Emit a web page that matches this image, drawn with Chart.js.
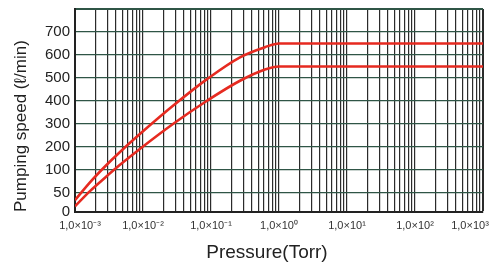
<!DOCTYPE html>
<html>
<head>
<meta charset="utf-8">
<script src="https://cdn.jsdelivr.net/npm/chart.js@4/dist/chart.umd.min.js"></script>
<style>
    html, body { margin: 0; background: #fff; }
</style>
</head>
<body>
<canvas id="pump" width="499" height="265"></canvas>
<script>
// values (pressure in Torr, speed in l/min)
const pressures  = [0.001, 0.00166, 0.00276, 0.00459, 0.01, 0.0276, 0.0873, 0.267, 0.622, 1.0, 10, 100, 1000];
const speedUpper = [31, 73, 115, 178, 268, 379, 495, 590, 634, 650, 650, 650, 650];
const speedLower = [15, 54, 83, 122, 202, 300, 401, 488, 537, 550, 550, 550, 550];
const speedTicks = [0, 50, 100, 200, 300, 400, 500, 600, 700, 800];
const decadeExps = [-3, -2, -1, 0, 1, 2, 3];

const supers = { "-": "\u207B", "0": "\u2070", "1": "\u00B9", "2": "\u00B2", "3": "\u00B3" };
function decadeLabel(exp) {
    return "1,0\u00D710" + String(exp).split("").map(c => supers[c]).join("");
}

// the printed speed axis is not linear below 100, so map values piecewise
const knotVal = [0, 50, 100, 800];
const knotPos = [0, 0.83, 1.83, 8.83];
function fwd(v) {
    for (let i = 1; i < knotVal.length; i++) {
        if (v <= knotVal[i] || i === knotVal.length - 1) {
            const t = (v - knotVal[i - 1]) / (knotVal[i] - knotVal[i - 1]);
            return knotPos[i - 1] + t * (knotPos[i] - knotPos[i - 1]);
        }
    }
}
function inv(u) {
    for (let i = 1; i < knotPos.length; i++) {
        if (u <= knotPos[i] || i === knotPos.length - 1) {
            const t = (u - knotPos[i - 1]) / (knotPos[i] - knotPos[i - 1]);
            return knotVal[i - 1] + t * (knotVal[i] - knotVal[i - 1]);
        }
    }
}

class SpeedScale extends Chart.LinearScale {
    getPixelForValue(value) {
        if (value === null || value === undefined) return NaN;
        const a = fwd(this.min), b = fwd(this.max);
        return this.getPixelForDecimal((fwd(value) - a) / (b - a));
    }
    getValueForPixel(pixel) {
        const a = fwd(this.min), b = fwd(this.max);
        return inv(a + this.getDecimalForPixel(pixel) * (b - a));
    }
}
SpeedScale.id = "speed";
SpeedScale.defaults = {};

// log axis whose end labels sit a little inside the frame, as printed
class PressureScale extends Chart.LogarithmicScale {
    _computeLabelItems(chartArea) {
        const items = super._computeLabelItems(chartArea);
        if (items.length) {
            items[0].options.translation[0] += 5;
            items[items.length - 1].options.translation[0] -= 13;
        }
        return items;
    }
    drawTitle() {
        // title is printed a bit left of the plot centre
        this.ctx.save();
        this.ctx.translate(-12, 0);
        super.drawTitle();
        this.ctx.restore();
    }
}
PressureScale.id = "pressure";
PressureScale.defaults = {};

Chart.register(SpeedScale, PressureScale);

function series(values) {
    return pressures.map((p, i) => ({ x: p, y: values[i] }));
}

const lineStyle = {
    borderColor: "#e62a20",
    borderWidth: 2.6,
    pointRadius: 0,
    fill: false,
    cubicInterpolationMode: "monotone"
};

const font = "Liberation Sans, Arial, sans-serif";

new Chart(document.getElementById("pump").getContext("2d"), {
    type: "line",
    data: {
        datasets: [
            Object.assign({ label: "upper", data: series(speedUpper) }, lineStyle),
            Object.assign({ label: "lower", data: series(speedLower) }, lineStyle)
        ]
    },
    options: {
        responsive: false,
        animation: false,
        events: [],
        layout: { padding: { left: 6, right: 16, top: 9, bottom: 0 } },
        plugins: {
            legend: { display: false },
            tooltip: { enabled: false }
        },
        scales: {
            x: {
                type: "pressure",
                min: 0.001,
                max: 1000,
                afterBuildTicks: (s) => {
                    const t = [];
                    decadeExps.slice(0, -1).forEach(e => {
                        for (let m = 1; m < 10; m++) t.push({ value: m * Math.pow(10, e), major: m === 1 });
                    });
                    t.push({ value: 1000, major: true });
                    s.ticks = t;
                },
                afterFit: (s) => {
                    s.paddingLeft = 0;
                    s.paddingRight = 0;
                    s.height = 53;
                },
                ticks: {
                    autoSkip: false,
                    maxRotation: 0,
                    padding: 7,
                    color: "#333",
                    font: { family: font, size: 11 },
                    callback: (v) => {
                        const e = Math.log10(v);
                        if (Math.abs(e - Math.round(e)) > 1e-6) return "";
                        return decadeLabel(Math.round(e));
                    }
                },
                grid: {
                    color: "#2b2b2b",
                    lineWidth: (c) => (c.tick && c.tick.value === 1000 ? 2 : 1.2),
                    drawTicks: false
                },
                border: { color: "#222", width: 2 },
                title: {
                    display: true,
                    text: "Pressure(Torr)",
                    color: "#222",
                    font: { family: font, size: 19 },
                    padding: { top: 4, bottom: 1 }
                }
            },
            y: {
                type: "speed",
                min: 0,
                max: 800,
                afterBuildTicks: (s) => {
                    s.ticks = speedTicks.map(v => ({ value: v }));
                },
                afterFit: (s) => {
                    s.width = 69;
                    s.paddingTop = 0;
                    s.paddingBottom = 0;
                },
                ticks: {
                    padding: 5,
                    color: "#222",
                    font: { family: font, size: 15 },
                    callback: (v) => (v === 800 ? "" : String(v))
                },
                grid: {
                    color: "#2f5546",
                    lineWidth: (c) => (c.tick && c.tick.value === 800 ? 2 : 1.2),
                    drawTicks: false
                },
                border: { color: "#222", width: 2 },
                title: {
                    display: true,
                    align: "start",
                    text: "Pumping speed (\u2113/min)",
                    color: "#222",
                    font: { family: font, size: 17 },
                    padding: { top: 5, bottom: 0 }
                }
            }
        }
    }
});
</script>
</body>
</html>
